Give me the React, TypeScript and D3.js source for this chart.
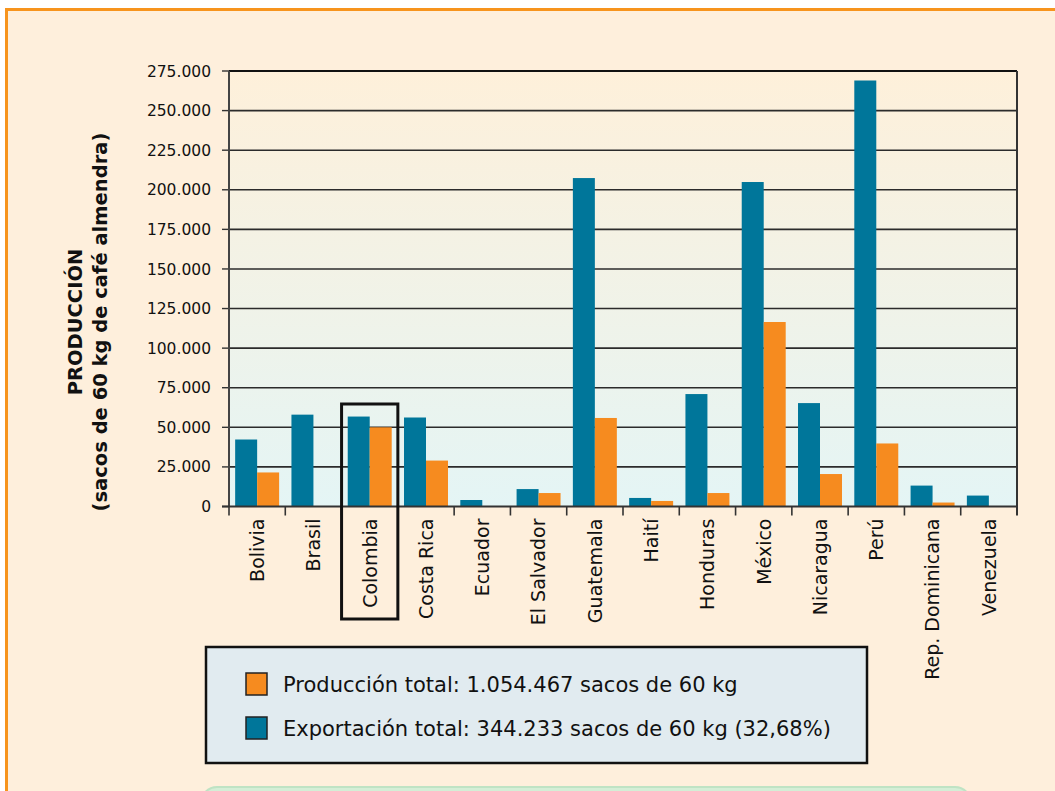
import * as d3 from "d3";

const categories = [
  "Bolivia", "Brasil", "Colombia", "Costa Rica", "Ecuador", "El Salvador", "Guatemala",
  "Haití", "Honduras", "México", "Nicaragua", "Perú", "Rep. Dominicana", "Venezuela",
];
const exportacion = [42300, 58000, 56800, 56200, 4100, 11000, 207400, 5400, 71000, 204900, 65300, 269000, 13200, 6900];
const produccion = [21500, 0, 50000, 29000, 0, 8500, 55900, 3500, 8500, 116500, 20500, 39800, 2500, 0];
const yTicks = [0, 25000, 50000, 75000, 100000, 125000, 150000, 175000, 200000, 225000, 250000, 275000];
const legendItems = [
  { label: "Producción total: 1.054.467 sacos de 60 kg", color: "#F68B1F" },
  { label: "Exportación total: 344.233 sacos de 60 kg (32,68%)", color: "#00769A" },
];
const highlighted = "Colombia";

const W = 1055;
const H = 791;
const plot = { left: 229, right: 1017, top: 71, bottom: 506.5 };
const FONT = "'DejaVu Sans', sans-serif";

export default function App() {
  const x = d3.scaleBand().domain(categories).range([plot.left, plot.right]).padding(0);
  const x1 = d3.scaleBand().domain(["exp", "prod"]).range([0, x.bandwidth()]).paddingInner(0).paddingOuter(0.28);
  const y = d3.scaleLinear().domain([0, 275000]).range([plot.bottom, plot.top]);
  const fmt = (v: number) => d3.format(",")(v).replace(/,/g, ".");

  const hx = x(highlighted) ?? 0;

  return (
    <svg width={W} height={H} style={{ position: "absolute", left: 0, top: 0 }} fontFamily={FONT}>
      <defs>
        <linearGradient id="plotBg" x1="0" y1="0" x2="0" y2="1">
          <stop offset="0%" stopColor="#FEF0DA" />
          <stop offset="100%" stopColor="#E4F5F5" />
        </linearGradient>
      </defs>
      <rect x={0} y={0} width={W} height={H} fill="#fff" />
      {/* outer panel */}
      <rect x={6.5} y={9.5} width={W + 10} height={H + 10} fill="#FEEFDC" stroke="#F7941D" strokeWidth={3} />

      {/* plot area */}
      <rect x={plot.left} y={plot.top} width={plot.right - plot.left} height={plot.bottom - plot.top} fill="url(#plotBg)" />

      {/* grid + y ticks */}
      {yTicks.map(t => (
        <g key={t}>
          {t > 0 && <line x1={plot.left} x2={plot.right} y1={y(t)} y2={y(t)} stroke="#2b2b2b" strokeWidth={1.6} />}
          <line x1={plot.left - 7} x2={plot.left} y1={y(t)} y2={y(t)} stroke="#333" strokeWidth={1.4} />
          <text x={211} y={y(t)} dy="0.36em" textAnchor="end" fontSize={15.5} fill="#111">{fmt(t)}</text>
        </g>
      ))}

      {/* bars */}
      {categories.map((c, i) => (
        <g key={c}>
          <rect x={(x(c) ?? 0) + (x1("exp") ?? 0)} y={y(exportacion[i])} width={x1.bandwidth()}
            height={y(0) - y(exportacion[i])} fill="#00769A" />
          <rect x={(x(c) ?? 0) + (x1("prod") ?? 0)} y={y(produccion[i])} width={x1.bandwidth()}
            height={y(0) - y(produccion[i])} fill="#F68B1F" />
        </g>
      ))}

      {/* frame */}
      <line x1={plot.left} x2={plot.right} y1={plot.top} y2={plot.top} stroke="#111" strokeWidth={2} />
      <line x1={plot.right} x2={plot.right} y1={plot.top} y2={plot.bottom + 9} stroke="#333" strokeWidth={2} />
      <line x1={plot.left} x2={plot.left} y1={plot.top} y2={plot.bottom} stroke="#444" strokeWidth={2} />
      <line x1={plot.left - 7} x2={plot.right} y1={plot.bottom} y2={plot.bottom} stroke="#333" strokeWidth={2} />

      {/* x ticks + labels */}
      {categories.map(c => (
        <g key={c}>
          <line x1={x(c) ?? 0} x2={x(c) ?? 0} y1={plot.bottom} y2={plot.bottom + 9} stroke="#333" strokeWidth={1.6} />
          <text transform={`translate(${(x(c) ?? 0) + x.bandwidth() / 2},${plot.bottom + 12}) rotate(-90)`}
            dy="0.36em" textAnchor="end" fontSize={19} fill="#111">{c}</text>
        </g>
      ))}

      {/* highlight box */}
      <rect x={hx} y={404} width={x.bandwidth()} height={215}
        fill="none" stroke="#111" strokeWidth={3} />

      {/* y axis title */}
      <g transform="translate(82,322) rotate(-90)" fontWeight="bold" fontSize={19.5} fill="#111" textAnchor="middle">
        <text y={0}>PRODUCCIÓN</text>
        <text y={25}>(sacos de 60 kg de café almendra)</text>
      </g>

      {/* legend */}
      <rect x={206} y={647} width={661} height={116} fill="#E1EBF0" stroke="#111" strokeWidth={2.5} />
      {legendItems.map((d, i) => (
        <g key={d.label} transform={`translate(246,${673 + i * 44})`}>
          <rect x={0} y={0} width={21} height={22} fill={d.color} stroke="#222" strokeWidth={1.5} />
          <text x={37} y={11} dy="0.36em" fontSize={21} fill="#111">{d.label}</text>
        </g>
      ))}

      {/* green note box (cut off) */}
      <rect x={201} y={787} width={770} height={60} rx={16} fill="#D4EED6" stroke="#BFE3C4" strokeWidth={2} />
    </svg>
  );
}
